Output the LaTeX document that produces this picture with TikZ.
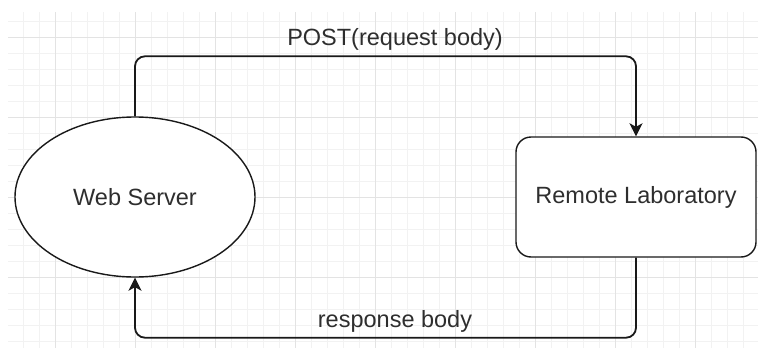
\documentclass[tikz,border=0pt]{standalone}
\usepackage{fontspec}
\setmainfont{Liberation Sans}
\usetikzlibrary{shapes.geometric, arrows.meta, positioning}

\tikzset{
	minorline/.style={draw=black!5, line width=0.8pt},
	majorline/.style={draw=black!11, line width=1pt},
	flow/.style={draw=black!90, line width=1.8pt, rounded corners=10pt, -{Stealth[length=13pt, width=13pt, inset=3.5pt]}},
	lbl/.style={font=\fontsize{23.5}{28}\selectfont, text=black!82},
}

\begin{document}
\begin{tikzpicture}[x=1pt, y=-1pt]
		% Page and grid
		\useasboundingbox (0,0) rectangle (758,348);
		\fill[white] (0,0) rectangle (758,348);
		\begin{scope}
			\clip (8,12) rectangle (758,348);
			\foreach \x in {7,23,...,759} \draw[minorline] (\x,12) -- (\x,348);
			\foreach \y in {5,21,...,349} \draw[minorline] (8,\y) -- (758,\y);
			\foreach \x in {55,135,...,759} \draw[majorline] (\x,12) -- (\x,348);
			\foreach \y in {37,117,...,349} \draw[majorline] (8,\y) -- (758,\y);
		\end{scope}
		
		% The two parties
		\node[ellipse, draw=black!90, fill=white, line width=1.4pt, minimum width=240pt, minimum height=160pt, lbl] (web) at (135,197) {Web Server};
		\node[rectangle, rounded corners=15pt, draw=black!90, fill=white, line width=1.4pt, minimum width=240pt, minimum height=120pt, lbl] (lab) at (636,197) {Remote Laboratory};
		
		% Request and response
		\draw[flow] (web.north) -- ++(0,-60) -| (lab.north);
		\draw[flow] (lab.south) -- ++(0,80) -| (web.south);
		\node[lbl, anchor=base] (post) at (395,45) {POST(request body)};
		\node[lbl, anchor=base] (resp) at (395,327) {response body};
\end{tikzpicture}
\end{document}
